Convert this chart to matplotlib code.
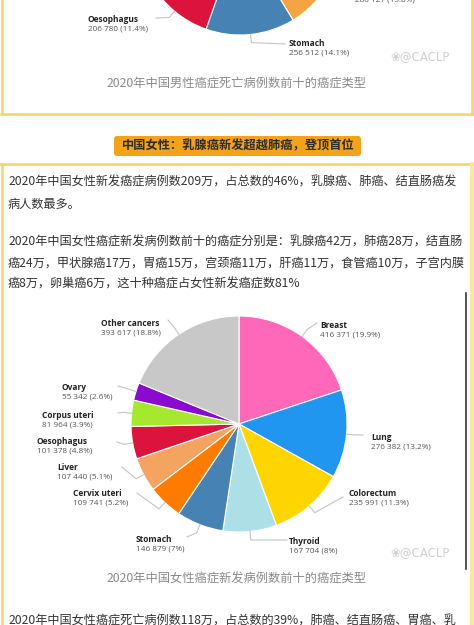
import math
import matplotlib.pyplot as plt
from matplotlib.patches import FancyBboxPatch

W, H = 474, 625

# 2020 China, female new cancer cases (full pie)
f_labels = ['Breast', 'Lung', 'Colorectum', 'Thyroid', 'Stomach', 'Cervix uteri',
            'Liver', 'Oesophagus', 'Corpus uteri', 'Ovary', 'Other cancers']
f_cases = [416371, 276382, 235991, 167704, 146879, 109741,
           107440, 101378, 81964, 55342, 393617]
f_pct = ['19.9%', '13.2%', '11.3%', '8%', '7%', '5.2%',
         '5.1%', '4.8%', '3.9%', '2.6%', '18.8%']
f_colors = ['#FF67B9', '#2196F0', '#FFD500', '#ADDFE6', '#4682B4', '#FF7B00',
            '#F4A460', '#DC143C', '#A6E830', '#8A0ACF', '#C8C8C8']

# 2020 China, male cancer deaths (only the bottom of that pie is on screen)
m_labels = ['Liver', 'Stomach', 'Oesophagus']
m_deaths = [288127, 256512, 206780]
m_pct = [15.8, 14.1, 11.4]
m_colors = ['#F5A442', '#4682B4', '#DC143C']

# text of the article
banner = '中国女性：乳腺癌新发超越肺癌，登顶首位'
body = ['2020年中国女性新发癌症病例数209万，占总数的46%，乳腺癌、肺癌、结直肠癌发',
        '病人数最多。',
        '2020年中国女性癌症新发病例数前十的癌症分别是：乳腺癌42万，肺癌28万，结直肠',
        '癌24万，甲状腺癌17万，胃癌15万，宫颈癌11万，肝癌11万，食管癌10万，子宫内膜',
        '癌8万，卵巢癌6万，这十种癌症占女性新发癌症数81%']
body_y = [182, 204, 242, 263, 284]
cap_male = '2020年中国男性癌症死亡病例数前十的癌症类型'
cap_female = '2020年中国女性癌症新发病例数前十的癌症类型'
last_line = '2020年中国女性癌症死亡病例数118万，占总数的39%，肺癌、结直肠癌、胃癌、乳'

# label layout for the female pie: text position and leader end
f_label_xy = [(320, 326), (371, 437), (349, 493), (289, 541), (136, 539), (73, 493),
              (57, 467), (37, 441), (42, 415), (62, 388), (101, 324)]
f_leader_end = [(317, 323), (363, 435), (343, 497), (287, 540), (187, 537), (137, 493),
                (122, 467), (117, 442), (118, 413), (118, 386), (168, 320)]

CJK = ['Noto Sans CJK SC', 'DejaVu Sans']
LAT = ['Open Sans', 'DejaVu Sans']
YEL = '#F5D466'
LEAD = '#c4c4c4'


def fmt(v):
    return f'{v:,}'.replace(',', ' ')


def leaders(ax, wedges, cx, cy, r, ends):
    for w, end in zip(wedges, ends):
        a = math.radians((w.theta1 + w.theta2) / 2)
        p0 = (cx + r * math.cos(a), cy + r * math.sin(a))
        p1 = (cx + 1.08 * r * math.cos(a), cy + 1.08 * r * math.sin(a))
        ax.plot([p0[0], p1[0], end[0]], [p0[1], p1[1], end[1]],
                color=LEAD, lw=0.8, zorder=1)


def pie_label(ax, x, y, name, val):
    ax.text(x, y, name, fontsize=6.0, fontweight='bold', color='#222222',
            family=LAT, va='center', ha='left')
    ax.text(x, y + 9.5, val, fontsize=5.9, color='#555555',
            family=LAT, va='center', ha='left')


fig = plt.figure(figsize=(W / 100, H / 100), dpi=100)
ax = fig.add_axes([0, 0, 1, 1])

# male pie fragment (y axis is inverted later, so counterclock=True runs clockwise)
mc, mr = (240, -67), 102
rest = 100 - sum(m_pct)
mw, _ = ax.pie(m_pct + [rest], colors=m_colors + ['none'], startangle=1.8,
               counterclock=True, center=mc, radius=mr,
               wedgeprops=dict(edgecolor='white', linewidth=0.8))
mw[-1].set_visible(False)
leaders(ax, mw[1:3], mc[0], mc[1], mr, [(285, 44), (156, 18)])
pie_label(ax, 289, 43, m_labels[1], f'{fmt(m_deaths[1])} ({m_pct[1]}%)')
pie_label(ax, 88, 20, m_labels[2], f'{fmt(m_deaths[2])} ({m_pct[2]}%)')
pie_label(ax, 355, -9.5, m_labels[0], f'{fmt(m_deaths[0])} ({m_pct[0]}%)')

# female pie
fc, fr = (239, 424), 108
fw, _ = ax.pie(f_cases, colors=f_colors, startangle=-90, counterclock=True,
               center=fc, radius=fr,
               wedgeprops=dict(edgecolor='white', linewidth=0.8))
leaders(ax, fw, fc[0], fc[1], fr, f_leader_end)
for (x, y), name, v, p in zip(f_label_xy, f_labels, f_cases, f_pct):
    pie_label(ax, x, y, name, f'{fmt(v)} ({p})')

# watermarks and captions
for wy in (57, 553):
    ax.text(420, wy, '❀@CACLP', fontsize=8.5, color='#d0d0d0',
            family=['DejaVu Sans'], ha='center', va='center')
ax.text(237, 83, cap_male, fontsize=8.8, color='#8a8a8a', family=CJK,
        ha='center', va='center')
ax.text(237, 579, cap_female, fontsize=8.8, color='#8a8a8a', family=CJK,
        ha='center', va='center')

# card borders
ax.plot([2, 2], [0, 114], color=YEL, lw=1.8)
ax.plot([472, 472], [0, 114], color=YEL, lw=1.8)
ax.plot([1, 473], [114, 114], color=YEL, lw=1.8)
ax.plot([0, 474], [164, 164], color=YEL, lw=1.8)
ax.plot([2, 2], [164, 625], color=YEL, lw=1.8)
ax.plot([472, 472], [164, 625], color='#F8E79A', lw=2.6)

# the dark rule at the right of the pie image
ax.plot([466, 466], [293, 569], color='#222222', lw=1.1)

# banner
ax.add_patch(FancyBboxPatch((114, 136), 247, 20, boxstyle='round,pad=0,rounding_size=3',
                            facecolor='#F3A31B', edgecolor='none'))
ax.text(238, 146, banner, fontsize=8.8, fontweight='bold', color='#2b2b2b',
        family=CJK, ha='center', va='center')

# body text
for y, line in zip(body_y, body):
    ax.text(8, y, line, fontsize=8.75, color='#333333', family=CJK, va='center')
ax.text(8, 621, last_line, fontsize=8.75, color='#333333', family=CJK, va='center')

ax.set_xlim(0, W)
ax.set_ylim(H, 0)
ax.set_aspect('auto')
ax.axis('off')

fig.savefig('out.png', dpi=100)
